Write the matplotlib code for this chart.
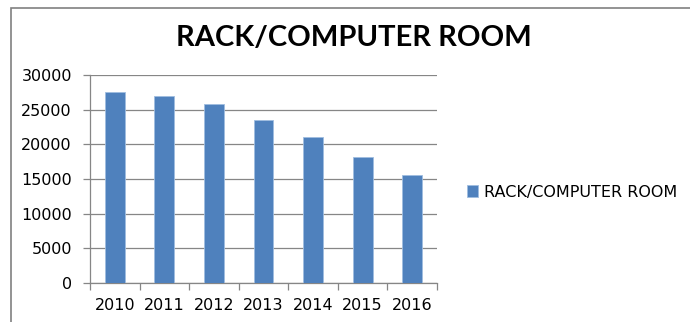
import numpy as np
import matplotlib.pyplot as plt
from matplotlib.patches import Rectangle

years = ["2010", "2011", "2012", "2013", "2014", "2015", "2016"]
rack_values = [27500, 27000, 25800, 23500, 21100, 18200, 15600]
series_name = "RACK/COMPUTER ROOM"
y_ticks = [0, 5000, 10000, 15000, 20000, 25000, 30000]

BAR_COLOR = "#4f81bd"
GRID_COLOR = "#868686"

fig = plt.figure(figsize=(6.9, 3.22), dpi=100)
fig.patch.set_facecolor("white")

# outer chart frame, running off the right and bottom edges
fig.add_artist(Rectangle((11 / 690, -0.1), 1.0, 1 - 8 / 322 + 0.1,
                         transform=fig.transFigure, fill=False,
                         edgecolor="#808080", linewidth=1.2))

ax = fig.add_axes([90 / 690, 1 - 283 / 322, 347 / 690, 208 / 322])

x = np.arange(len(years))
ax.bar(x, rack_values, width=0.4, color=BAR_COLOR, edgecolor="#9fbde0",
       linewidth=0.6, label=series_name, zorder=3)

ax.set_xlim(-0.5, len(years) - 0.5)
ax.set_ylim(0, 30000)
ax.set_yticks(y_ticks)
ax.set_yticklabels([str(v) for v in y_ticks])
ax.set_xticks(x)
ax.set_xticklabels(years)
ax.set_xticks(np.arange(-0.5, len(years)), minor=True)

ax.yaxis.grid(True, color=GRID_COLOR, linewidth=0.9, zorder=0)
ax.set_axisbelow(True)
for side in ["top", "right"]:
    ax.spines[side].set_visible(False)
for side in ["left", "bottom"]:
    ax.spines[side].set_color(GRID_COLOR)
    ax.spines[side].set_linewidth(0.9)

ax.tick_params(axis="x", which="major", length=0, pad=11, labelsize=11.5)
ax.tick_params(axis="x", which="minor", length=5, color=GRID_COLOR, width=0.9)
ax.tick_params(axis="y", length=5, color=GRID_COLOR, width=0.9, pad=8,
               labelsize=11.5)

fig.text(354 / 690, 1 - 38 / 322, series_name, ha="center", va="center",
         fontsize=21, fontweight="bold", family="Lato")

fig.legend(loc="center left", bbox_to_anchor=(467 / 690, 1 - 192 / 322),
           frameon=False, fontsize=11.5, handlelength=0.7, handleheight=0.7,
           handletextpad=0.35, borderpad=0, borderaxespad=0)

fig.savefig("out.png", dpi=100, facecolor="white")
